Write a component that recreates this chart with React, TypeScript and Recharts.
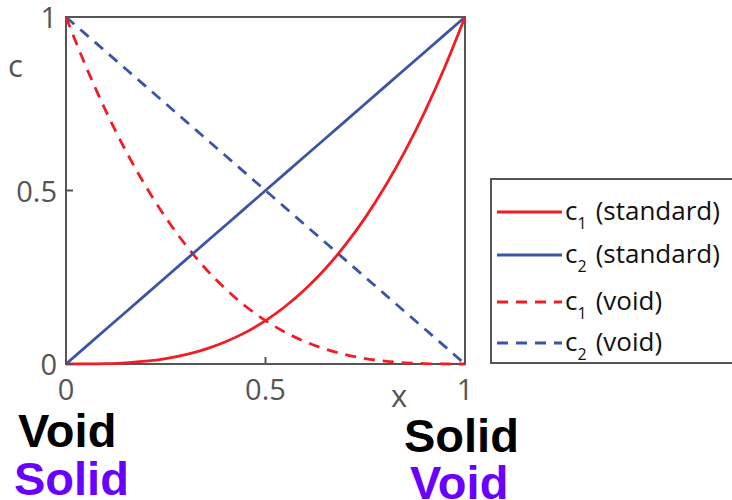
import { LineChart, Line, XAxis, YAxis, ReferenceArea } from 'recharts';

const xs = [0, 0.05, 0.1, 0.15, 0.2, 0.25, 0.3, 0.35, 0.4, 0.45, 0.5, 0.55, 0.6, 0.65, 0.7, 0.75, 0.8, 0.85, 0.9, 0.95, 1];
const c1Standard = [0, 0.0001, 0.001, 0.0034, 0.008, 0.0156, 0.027, 0.0429, 0.064, 0.0911, 0.125, 0.1664, 0.216, 0.2746, 0.343, 0.4219, 0.512, 0.6141, 0.729, 0.8574, 1];
const c2Standard = [0, 0.05, 0.1, 0.15, 0.2, 0.25, 0.3, 0.35, 0.4, 0.45, 0.5, 0.55, 0.6, 0.65, 0.7, 0.75, 0.8, 0.85, 0.9, 0.95, 1];
const c1Void = [1, 0.8574, 0.729, 0.6141, 0.512, 0.4219, 0.343, 0.2746, 0.216, 0.1664, 0.125, 0.0911, 0.064, 0.0429, 0.027, 0.0156, 0.008, 0.0034, 0.001, 0.0001, 0];
const c2Void = [1, 0.95, 0.9, 0.85, 0.8, 0.75, 0.7, 0.65, 0.6, 0.55, 0.5, 0.45, 0.4, 0.35, 0.3, 0.25, 0.2, 0.15, 0.1, 0.05, 0];
const tickValues = [0, 0.5, 1];

const data = xs.map((x, i) => ({ x, c1s: c1Standard[i], c2s: c2Standard[i], c1v: c1Void[i], c2v: c2Void[i] }));

const RED = '#f21c24';
const BLUE = '#3a55a6';
const GRAY = '#555555';
const PURPLE = '#6a00ff';
const FONT = '"Open Sans", sans-serif';
const BOLD = '"Liberation Sans", Arial, sans-serif';

const legendItems = [
  { sub: '1', label: '(standard)', color: RED, dash: false, y: 212 },
  { sub: '2', label: '(standard)', color: BLUE, dash: false, y: 255 },
  { sub: '1', label: '(void)', color: RED, dash: true, y: 302 },
  { sub: '2', label: '(void)', color: BLUE, dash: true, y: 343 },
];

const XTick = (props: any) => {
  const { x, y, payload } = props;
  return (
    <g>
      <line x1={x} y1={y} x2={x} y2={y - 7} stroke={GRAY} strokeWidth={2} />
      <text x={x} y={y + 36} textAnchor="middle" fill={GRAY} fontSize={29} fontFamily={FONT}>
        {String(payload.value)}
      </text>
    </g>
  );
};

const YTick = (props: any) => {
  const { x, y, payload } = props;
  return (
    <g>
      <line x1={x} y1={y} x2={x + 7} y2={y} stroke={GRAY} strokeWidth={2} />
      <text x={x - 9} y={y + 11} textAnchor="end" fill={GRAY} fontSize={29} fontFamily={FONT}>
        {String(payload.value)}
      </text>
    </g>
  );
};

const LegendBox = () => (
  <svg width={244} height={186} style={{ position: 'absolute', left: 490, top: 178 }}>
    <rect x={1} y={1} width={250} height={184} fill="#fff" stroke={GRAY} strokeWidth={2} />
    {legendItems.map((it, i) => {
      const cy = it.y - 178;
      return (
        <g key={i}>
          <line x1={7} y1={cy} x2={72} y2={cy} stroke={it.color} strokeWidth={2.8} strokeDasharray={it.dash ? '11 8' : undefined} />
          <text x={75} y={cy + 8} fontSize={26} fontFamily={FONT} fill="#111">
            c
            <tspan fontSize={16} dy={9}>{it.sub}</tspan>
            <tspan fontSize={26} dy={-9} dx={9}>{it.label}</tspan>
          </text>
        </g>
      );
    })}
  </svg>
);

export default function App() {
  return (
    <div style={{ position: 'absolute', left: 0, top: 0, width: 732, height: 500, background: '#fff', overflow: 'hidden' }}>
      <LineChart width={732} height={500} data={data} margin={{ top: 17, right: 267, bottom: 96, left: 6 }}>
        <XAxis dataKey="x" type="number" domain={[0, 1]} ticks={tickValues} interval={0} height={40} tickSize={0} tickMargin={0} axisLine={false} tickLine={false} tick={<XTick />} />
        <YAxis type="number" domain={[0, 1]} ticks={tickValues} interval={0} width={60} tickSize={0} tickMargin={0} axisLine={false} tickLine={false} tick={<YTick />} />
        <ReferenceArea x1={0} x2={1} y1={0} y2={1} fill="none" fillOpacity={0} stroke={GRAY} strokeWidth={2} strokeOpacity={1} />
        <Line dataKey="c2v" stroke={BLUE} strokeWidth={2.8} strokeDasharray="11 8" dot={false} type="monotone" isAnimationActive={false} />
        <Line dataKey="c1v" stroke={RED} strokeWidth={2.8} strokeDasharray="11 8" dot={false} type="monotone" isAnimationActive={false} />
        <Line dataKey="c2s" stroke={BLUE} strokeWidth={2.8} dot={false} type="linear" isAnimationActive={false} />
        <Line dataKey="c1s" stroke={RED} strokeWidth={2.8} dot={false} type="monotone" isAnimationActive={false} />
      </LineChart>
      <LegendBox />
      <svg width={732} height={500} style={{ position: 'absolute', left: 0, top: 0, pointerEvents: 'none' }}>
        <text x={8} y={77} fontSize={31} fill={GRAY} fontFamily={FONT}>c</text>
        <text x={391} y={407} fontSize={31} fill={GRAY} fontFamily={FONT}>x</text>
        <text x={18} y={447} fontSize={47} fontWeight="bold" fill="#000" fontFamily={BOLD}>Void</text>
        <text x={14} y={495} fontSize={47} fontWeight="bold" fill={PURPLE} fontFamily={BOLD}>Solid</text>
        <text x={404} y={452} fontSize={47} fontWeight="bold" fill="#000" fontFamily={BOLD}>Solid</text>
        <text x={410} y={499} fontSize={47} fontWeight="bold" fill={PURPLE} fontFamily={BOLD}>Void</text>
      </svg>
    </div>
  );
}
